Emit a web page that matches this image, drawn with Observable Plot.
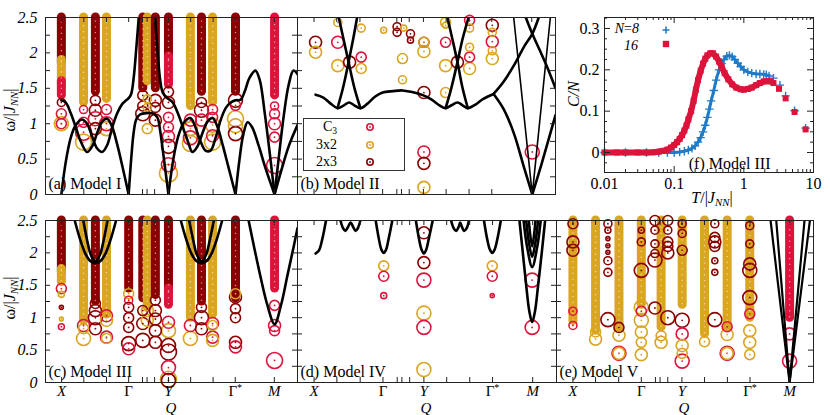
<!DOCTYPE html>
<html><head><meta charset="utf-8">
<script src="https://cdn.jsdelivr.net/npm/d3@7"></script>
<script src="https://cdn.jsdelivr.net/npm/@observablehq/plot@0.6"></script>
<style>
body{margin:0;background:#fff;}
#wrap{position:relative;width:830px;height:415px;overflow:hidden;font-family:"Liberation Serif","Times New Roman",serif;background:#fff;}
#wrap svg{position:absolute;left:0;top:0;}
#wrap svg text{font-family:"Liberation Serif","Times New Roman",serif;}
.lab{position:absolute;font-size:16px;white-space:nowrap;color:#000;line-height:1;}
.lab sub{font-size:0.68em;position:relative;top:0.3em;vertical-align:baseline;line-height:0;}
.box{position:absolute;border:1px solid #333;}
</style></head><body><div id="wrap"></div>
<script>
// ---------- categories & ticks ----------
const SECTORS = ["C3","3x2","2x3"];
const SECTOR_COLORS = ["#dc143c","#daa520","#8b0000"];
const BLUE = "#1f7bc8", RED = "#dc143c";
const SERIF = "Liberation Serif";
const Q_TICKS = [6.4,15.2,24.2,33,38.5,40.3,43.3,48.8,57.6,66.5,75.3,90.8];
const Q_LABEL_POS = [6.4,33,48.8,75.3,90.8];
const Q_LABEL_TEXT = ["X","Γ","Y","Γ*","M"];
const OMEGA_TICKS = [0,0.25,0.5,0.75,1,1.25,1.5,1.75,2,2.25,2.5];
const OMEGA_LABELS = [0,0.5,1,1.5,2,2.5];
const LOG_MAJOR = [0.01,0.1,1,10];
const LOG_LABELS = ["0.01","0.1","1","10"];
const LOG_MINOR = [0.02,0.03,0.04,0.05,0.06,0.07,0.08,0.09,0.2,0.3,0.4,0.5,0.6,0.7,0.8,0.9,2,3,4,5,6,7,8,9];
const C_MAJOR = [0,0.1,0.2,0.3];
const C_LABELS = ["0","0.1","0.2","0.3"];
const C_MINOR = [-0.025,0.025,0.05,0.075,0.125,0.15,0.175,0.225,0.25,0.275,0.325];

// ---------- Model I (a) ----------
const bandsA = [
 [6.3,1.85,2.5,"2x3"],[6.3,1.55,1.9,"3x2"],[6.3,1.4,1.6,"C3"],
 [15.1,1.3,2.5,"3x2"],[19.8,1.45,2.5,"2x3"],[24.2,1.35,2.5,"3x2"],
 [38.6,1.5,2.5,"2x3"],[40.4,1.6,2.5,"3x2"],[43.6,1.5,2.5,"2x3"],
 [48.8,1.9,2.5,"2x3"],[48.8,1.55,1.95,"C3"],
 [57.5,1.25,2.5,"3x2"],[61.9,1.45,2.5,"2x3"],[66.3,1.3,2.5,"3x2"],
 [75.4,1.45,2.5,"2x3"],[90.9,1.4,2.5,"C3"]
];
const circlesA = [
 [6.3,1.3,4,"2x3"],[6.3,1.14,5,"C3"],[6.3,1.0,7,"3x2"],[6.3,1.0,5,"C3"],
 [15.1,1.2,4,"C3"],[15.1,1.02,5,"C3"],[15.1,0.88,8,"C3"],[15.1,0.74,8,"3x2"],
 [19.8,1.33,5,"2x3"],[19.8,1.19,6,"2x3"],[19.8,1.07,7,"C3"],[19.8,0.93,6,"2x3"],
 [24.2,1.2,5,"C3"],[24.2,1.0,7,"C3"],[24.2,0.93,7,"3x2"],
 [38.6,1.4,5,"2x3"],[38.6,1.25,5,"2x3"],[38.6,1.14,7,"2x3"],
 [40.4,1.35,4,"3x2"],[40.4,1.23,4,"3x2"],[40.4,0.93,5,"3x2"],
 [43.6,1.33,6,"2x3"],[43.6,1.23,5,"2x3"],[43.6,1.05,6,"2x3"],
 [48.8,1.45,5,"2x3"],[48.8,1.3,6,"2x3"],[48.8,1.09,5,"C3"],[48.8,0.95,5,"C3"],[48.8,0.82,6,"C3"],[48.8,0.68,7,"2x3"],[48.8,0.42,7,"C3"],[48.8,0.3,9,"3x2"],
 [57.5,1.05,6,"C3"],[57.5,0.93,7,"3x2"],[57.5,0.8,7,"C3"],[57.5,0.72,8,"3x2"],
 [61.9,1.3,5,"2x3"],[61.9,1.19,7,"2x3"],[61.9,1.05,6,"C3"],
 [66.3,1.2,5,"C3"],[66.3,1.09,5,"C3"],[66.3,0.98,7,"3x2"],[66.3,0.83,6,"C3"],[66.3,0.74,8,"3x2"],
 [75.4,1.33,7,"2x3"],[75.4,1.26,5,"C3"],[75.4,1.07,8,"3x2"],[75.4,0.97,7,"3x2"],[75.4,0.86,7,"2x3"],
 [90.9,1.25,4,"C3"],[90.9,1.14,5,"C3"],[90.9,1.0,6,"C3"],[90.9,0.81,5,"C3"],[90.9,0.41,8,"C3"]
];
const curvesA = [
 [[6.3,0],[8,0.45],[10,0.8],[12,0.98],[14.5,1.06],[16.5,1.0],[18.5,0.82],[20.5,0.65],[22.5,0.6],[24.5,0.7],[26.5,0.95],[28.5,1.15],[30.5,1.28],[32,1.33],[33,1.36],[34,1.42],[35,1.65],[36,2.05],[37,2.5]],
 [[6.3,1.33],[8,1.3],[10,1.15],[12,0.95],[14,0.75],[16.5,0.6],[18.5,0.68],[20.5,0.87],[22.5,1.03],[24.5,1.07],[26.5,0.95],[28.5,0.7],[30.5,0.4],[33,0]],
 [[33,0],[34,0.5],[35,0.88],[36,1.06],[37.5,1.13],[40,1.15],[43,1.14],[44.5,1.08],[45.5,0.9],[47,0.5],[48.8,0]],
 [[43.5,2.5],[44.5,2.0],[45.5,1.62],[46.5,1.44],[48,1.37],[48.8,1.35],[50.5,1.3],[52.5,1.15],[54.5,0.95],[56.5,0.75],[58.3,0.6],[60.3,0.68],[62.3,0.87],[64.3,1.03],[66.3,1.08],[68.3,0.95],[70.3,0.7],[72.5,0.4],[75.4,0]],
 [[48.8,0],[50.5,0.45],[52.5,0.8],[55,1.02],[57.5,1.08],[59.5,0.95],[61.5,0.75],[63.5,0.62],[65.5,0.62],[67.5,0.8],[69.5,1.05],[71.5,1.22],[73.5,1.3],[75.4,1.33],[77.5,1.34],[79,1.45],[81,1.65],[83.3,1.75],[85,1.62],[87,1.15],[89,0.58],[90.9,0]],
 [[90.9,0],[92.5,0.5],[94.5,1.1],[96.5,1.55],[98.4,1.75],[100,1.7]],
 [[75.4,0],[77,0.5],[78.5,0.85],[80.2,1.02],[82,0.95],[84.5,0.7],[87.5,0.35],[90.9,0]],
 [[90.9,0],[93.5,0.33],[96.5,0.68],[100,0.98]]
];

// ---------- Model II (b) ----------
const circlesB = [
 [7,2.15,6,"2x3"],[7,2.01,6,"3x2"],
 [15.6,2.43,4,"3x2"],[15.6,2.15,6,"C3"],[15.6,1.82,6,"3x2"],
 [20.2,1.87,6,"2x3"],
 [24.7,2.35,4,"3x2"],[24.7,1.94,5,"C3"],[24.7,1.78,5,"3x2"],
 [33.4,2.32,3,"3x2"],
 [38.6,2.37,4,"2x3"],[38.6,2.29,4,"2x3"],[41.2,2.35,3,"3x2"],
 [43.8,2.27,4,"2x3"],[43.8,2.18,3,"2x3"],
 [40.7,1.92,5,"3x2"],[40.7,1.62,4,"3x2"],
 [49,2.15,5,"2x3"],[49,2.15,5,"3x2"],[49,2.02,6,"3x2"],[49,1.44,6,"2x3"],[49,0.6,6,"C3"],[49,0.44,6,"2x3"],[49,0.1,6,"3x2"],
 [57.4,2.43,5,"3x2"],[57.4,2.39,3,"3x2"],[57.4,2.15,5,"C3"],[57.4,1.82,6,"3x2"],[57.4,1.44,5,"3x2"],
 [62,1.87,6,"2x3"],
 [66.7,2.46,5,"C3"],[66.7,2.35,4,"3x2"],[66.7,2.08,4,"3x2"],[66.7,1.94,5,"C3"],[66.7,1.78,6,"3x2"],
 [75.5,2.39,6,"2x3"],[75.5,2.29,4,"3x2"],[75.5,2.16,6,"C3"],[75.5,2.03,4,"3x2"],[75.5,1.92,6,"3x2"],
 [91,0.6,7,"C3"]
];
const curvesB = [
 [[7,1.41],[10,1.37],[13,1.28],[15.5,1.22],[18,1.26],[20,1.3],[22,1.26],[24.4,1.22],[27,1.28],[30,1.38],[33,1.44],[37,1.46],[40.7,1.47],[44,1.45],[48.8,1.4],[52,1.34],[55,1.26],[57.4,1.22],[59.7,1.26],[62,1.3],[64,1.26],[66,1.22],[69,1.27],[72,1.35],[76,1.42]],
 [[15.5,1.22],[17.6,1.5],[19.8,1.87],[21.6,2.2],[23.1,2.5]],
 [[24.4,1.22],[22.1,1.5],[19.8,1.87],[17.8,2.2],[16,2.5]],
 [[57.4,1.22],[59.6,1.5],[62,1.87],[64,2.2],[66.3,2.5]],
 [[66,1.22],[64,1.5],[62,1.87],[60,2.2],[58.1,2.5]],
 [[76,1.42],[80,1.6],[84,1.83],[88,2.1],[91,2.27],[93.5,2.5]],
 [[88.5,2.5],[91,2.27],[94,2.03],[97,1.78],[100,1.5]],
 [[76,1.42],[80,1.2],[84,0.85],[87.5,0.42],[91,0]],
 [[91,0],[94.5,0.42],[97.5,0.8],[100,1.12]]
];
const linesB = [ [[83.8,2.5],[91,0],[98,2.5]] ];

// ---------- Model III (c) ----------
const bandsC = [
 [6.3,1.7,2.5,"2x3"],[6.3,1.55,1.75,"3x2"],
 [15.1,0.95,2.5,"3x2"],[19.8,1.25,2.5,"2x3"],[24.2,1.05,2.5,"3x2"],
 [33,1.45,2.5,"2x3"],[38.6,1.3,2.5,"2x3"],[40.4,1.15,2.5,"3x2"],[43.6,1.35,2.5,"2x3"],
 [48.8,1.4,2.5,"2x3"],[48.8,1.2,1.45,"C3"],
 [57.5,1.0,2.5,"3x2"],[61.9,1.25,2.5,"2x3"],[66.3,1.05,2.5,"3x2"],
 [75.4,1.3,2.5,"2x3"],[90.9,1.45,2.5,"C3"]
];
const circlesC = [
 [6.3,1.45,5,"C3"],[6.3,1.36,3,"3x2"],[6.3,1.16,2,"2x3"],[6.3,0.98,2,"3x2"],[6.3,0.86,3,"C3"],
 [15.1,0.88,6,"C3"],[15.1,0.83,5,"3x2"],[15.1,0.68,7,"3x2"],
 [19.8,1.22,5,"2x3"],[19.8,1.11,6,"2x3"],[19.8,1.0,7,"2x3"],[19.8,0.83,6,"2x3"],
 [24.2,1.03,6,"C3"],[24.2,0.96,6,"3x2"],[24.2,0.7,6,"C3"],[24.2,0.68,5,"3x2"],
 [33,1.37,5,"3x2"],[33,1.27,4,"C3"],[33,1.16,5,"2x3"],[33,1.0,5,"2x3"],[33,0.85,5,"2x3"],[33,0.6,7,"2x3"],[33,0.52,6,"C3"],
 [38.6,1.11,5,"2x3"],[38.6,0.91,6,"2x3"],[38.6,0.65,7,"2x3"],
 [40.4,1.11,6,"3x2"],[40.4,0.96,6,"3x2"],
 [43.6,1.27,5,"2x3"],[43.6,1.11,6,"2x3"],[43.6,0.98,6,"2x3"],[43.6,0.8,6,"2x3"],[43.6,0.62,6,"2x3"],
 [48.8,0.93,6,"C3"],[48.8,0.8,7,"3x2"],[48.8,0.57,7,"2x3"],[48.8,0.47,8,"2x3"],[48.8,0.23,7,"C3"],[48.8,0.05,8,"3x2"],[48.8,0.03,7,"2x3"],
 [57.5,0.88,6,"C3"],[57.5,0.68,7,"3x2"],
 [61.9,1.16,5,"2x3"],[61.9,1.0,7,"2x3"],[61.9,0.83,6,"2x3"],
 [66.3,0.91,6,"C3"],[66.3,0.88,5,"3x2"],[66.3,0.7,6,"C3"],[66.3,0.65,6,"3x2"],
 [75.4,1.37,5,"3x2"],[75.4,1.32,6,"2x3"],[75.4,1.14,5,"2x3"],[75.4,1.0,5,"2x3"],[75.4,0.62,6,"2x3"],[75.4,0.55,6,"C3"],
 [90.9,1.19,5,"C3"],[90.9,0.88,6,"C3"],[90.9,0.8,5,"C3"],[90.9,0.34,8,"C3"]
];
const curvesC = [
 [[11.6,2.5],[13.8,2.2],[15.8,1.99],[17.9,1.87],[19.8,1.84],[21.7,1.87],[23.8,1.99],[25.8,2.2],[28,2.5]],
 [[15,2.5],[16.5,2.2],[18,1.97],[19.8,1.87],[21.6,1.97],[23.1,2.2],[24.6,2.5]],
 [[53.7,2.5],[55.9,2.2],[57.9,1.99],[60,1.87],[61.9,1.84],[63.8,1.87],[65.9,1.99],[67.9,2.2],[70.1,2.5]],
 [[57,2.5],[58.6,2.2],[60.1,1.97],[61.9,1.87],[63.7,1.97],[65.2,2.2],[66.8,2.5]],
 [[80.6,2.5],[83,2.05],[85.5,1.6],[88,1.2],[90.9,0.9],[93.5,1.2],[96,1.65],[98.5,2.1],[100,2.38]]
];

// ---------- Model IV (d) ----------
const circlesD = [
 [33.3,1.8,5,"3x2"],[33.3,1.64,5,"C3"],[33.3,1.34,3,"C3"],
 [48.8,2.31,6,"2x3"],[48.8,1.85,6,"2x3"],[48.8,1.58,7,"C3"],[48.8,1.07,7,"3x2"],[48.8,0.85,7,"C3"],[48.8,0.2,7,"3x2"],
 [75.2,1.8,5,"3x2"],[75.2,1.64,5,"C3"],[75.2,1.34,2,"C3"],
 [90.6,1.58,7,"C3"],[90.6,0.85,7,"C3"]
];
const curvesD = [
 [[7,1.99],[8.3,2.04],[9.5,2.2],[10.3,2.35],[11,2.5]],
 [[16.6,2.5],[17.6,2.38],[18.5,2.34],[19.5,2.4],[20.5,2.47],[21.5,2.4],[22.4,2.34],[23.3,2.38],[24.3,2.5]],
 [[30.2,2.5],[31.4,2.22],[32.4,2.05],[33.3,2.0],[34.2,2.05],[35.2,2.22],[36.6,2.5]],
 [[45.7,2.5],[46.9,2.22],[47.9,2.05],[48.8,1.99],[49.7,2.05],[50.7,2.22],[52.2,2.5]],
 [[59.3,2.5],[60.3,2.38],[61.2,2.34],[62.2,2.4],[62.8,2.47],[63.5,2.4],[64.3,2.34],[65.3,2.38],[66.2,2.5]],
 [[72,2.5],[73.2,2.22],[74.3,2.05],[75.2,2.0],[76.1,2.05],[77.2,2.22],[78.5,2.5]],
 [[85.7,2.5],[87,2.0],[88.3,1.5],[89.5,1.1],[90.6,0.93],[91.7,1.1],[92.9,1.5],[94.3,2.0],[95.6,2.5]],
 [[87.3,2.5],[88.7,2.08],[90.6,1.78],[92.5,2.08],[93.9,2.5]],
 [[88.3,2.5],[89.4,2.15],[90.6,1.94],[91.8,2.15],[92.9,2.5]],
 [[89.3,2.5],[90.6,2.1],[91.9,2.5]]
];

// ---------- Model V (e) ----------
const bandsE = [
 [6.4,0.95,2.5,"3x2"],[15.2,0.8,2.5,"3x2"],[24.3,0.85,2.5,"3x2"],[33,1.2,2.5,"3x2"],
 [40.7,0.85,2.5,"3x2"],[48.9,1.2,2.5,"3x2"],[57.6,0.75,2.5,"3x2"],[66.4,0.85,2.5,"3x2"],
 [75.2,1.0,2.5,"3x2"],[90.7,1.0,2.5,"C3"]
];
const circlesE = [
 [6.4,2.45,5,"2x3"],[6.4,2.17,6,"2x3"],[6.4,2.04,6,"2x3"],[6.4,1.1,4,"C3"],[6.4,0.88,4,"C3"],
 [15.2,0.78,5,"3x2"],[15.2,0.67,6,"3x2"],
 [20,2.45,4,"2x3"],[20,2.35,3,"2x3"],[20,2.22,2,"2x3"],[20,2.11,2,"2x3"],[20,2.01,2,"2x3"],[20,1.88,4,"2x3"],[20,1.7,4,"2x3"],[20,0.97,7,"2x3"],
 [24.3,0.85,5,"2x3"],[24.3,0.73,6,"3x2"],[24.3,0.45,7,"C3"],[24.3,0.45,6,"3x2"],
 [33,2.35,3,"2x3"],[33,2.17,4,"2x3"],[33,1.73,7,"2x3"],[33,1.16,7,"3x2"],[33,1.1,5,"C3"],[33,0.96,7,"3x2"],[33,0.78,6,"3x2"],[33,0.62,5,"3x2"],[33,0.43,6,"3x2"],
 [38.3,2.5,5,"2x3"],[38.3,2.35,4,"2x3"],[38.3,2.14,4,"2x3"],[38.3,1.99,4,"2x3"],[38.3,1.89,7,"2x3"],[38.3,1.15,6,"2x3"],
 [40.7,0.72,5,"3x2"],[40.7,0.62,6,"3x2"],
 [43.3,2.5,5,"2x3"],[43.3,2.35,4,"2x3"],[43.3,2.17,5,"2x3"],[43.3,2.1,5,"2x3"],[43.3,2.0,6,"2x3"],[43.3,1.0,7,"2x3"],
 [48.9,2.45,4,"2x3"],[48.9,2.3,4,"2x3"],[48.9,2.04,5,"2x3"],[48.9,0.96,7,"2x3"],[48.9,0.75,6,"C3"],[48.9,0.57,6,"3x2"],[48.9,0.45,5,"3x2"],[48.9,0.33,7,"C3"],
 [57.6,0.63,5,"3x2"],
 [61.6,2.45,4,"2x3"],[61.6,2.24,5,"2x3"],[61.6,2.17,6,"2x3"],[61.6,2.1,5,"2x3"],[61.6,1.88,3,"2x3"],[61.6,1.7,3,"2x3"],[61.6,0.97,7,"2x3"],
 [66.4,0.86,5,"C3"],[66.4,0.74,6,"3x2"],[66.4,0.45,7,"C3"],[66.4,0.45,6,"3x2"],
 [75.2,2.42,4,"2x3"],[75.2,2.14,4,"2x3"],[75.2,1.83,6,"2x3"],[75.2,1.73,7,"2x3"],[75.2,1.31,7,"2x3"],[75.2,1.06,5,"C3"],[75.2,0.8,6,"3x2"],[75.2,0.62,6,"3x2"],[75.2,0.43,5,"3x2"],
 [90.7,0.75,6,"C3"],[90.7,0.33,7,"C3"]
];
const linesE = [ [[83.3,2.5],[90.7,0],[98.6,2.5]], [[85.5,2.5],[90.7,0],[96.5,2.5]] ];

// ---------- (f) specific heat, Model III ----------
const T16 = [0.01,0.015,0.02,0.03,0.04,0.05,0.06,0.07,0.08,0.09,0.1,0.11,0.12,0.13,0.14,0.15,0.16,0.175,0.19,0.205,0.22,0.24,0.26,0.28,0.3,0.33,0.36,0.4,0.44,0.48,0.53,0.6,0.68,0.78,0.9,1.0,1.15,1.3,1.5,1.7,1.95,2.2,2.4];
const C16 = [0,0,0,0,0,0.0005,0.002,0.004,0.007,0.012,0.018,0.025,0.033,0.042,0.053,0.065,0.08,0.1,0.125,0.152,0.175,0.198,0.215,0.227,0.235,0.24,0.24,0.232,0.22,0.207,0.192,0.177,0.165,0.157,0.153,0.152,0.154,0.157,0.163,0.168,0.172,0.173,0.172];
const T16_TAIL = [2.66,3.2,3.98,5.35,7.7];
const C16_TAIL = [0.168,0.154,0.131,0.098,0.056];
const T8 = [0.01,0.02,0.04,0.06,0.08,0.1,0.12,0.14,0.16,0.18,0.2,0.22,0.24,0.26,0.28,0.3,0.32,0.34,0.37,0.4,0.44,0.48,0.52,0.57,0.62,0.68,0.74,0.82,0.9,1.0,1.14,1.3,1.5,1.7,1.93,2.1,2.3];
const C8 = [0,0,0,0,0,0,0.001,0.003,0.006,0.01,0.016,0.025,0.036,0.05,0.066,0.085,0.105,0.125,0.15,0.175,0.2,0.215,0.225,0.233,0.235,0.232,0.225,0.216,0.208,0.2,0.195,0.192,0.19,0.19,0.189,0.188,0.185];
const T8_TAIL = [2.66,3.3,3.98,5.35,7.7];
const C8_TAIL = [0.18,0.163,0.137,0.101,0.059];

// ---------- layout ----------
const FRAMES = {a:[45,297,17,194], b:[297,555,17,194], c:[45,297,220,382], d:[297,556,220,382], e:[556,813,220,382], f:[604,813,17,172]};
const wrap = document.getElementById("wrap");
const SVGNS = "http://www.w3.org/2000/svg";

function fixGammaStar(svg){
  svg.querySelectorAll("text").forEach(t=>{
    if (t.textContent === "Γ*") {
      t.textContent = "Γ";
      const ts = document.createElementNS(SVGNS,"tspan");
      ts.setAttribute("dy","-0.5em"); ts.setAttribute("font-size","10"); ts.textContent = "*";
      t.appendChild(ts);
    }
  });
}

function panelSpectral(key, bands, circles, curves, straight, label, showY, showQ){
  const [L,R,T,B] = FRAMES[key];
  const ux = 100/(R-L), uy = 2.5/(B-T), tk = 5;
  const flat = arr => arr.flatMap((c,i)=>c.map(p=>({id:i,q:p[0],w:p[1]})));
  const marks = [
    Plot.ruleX(bands,{x:d=>d[0],y1:d=>d[1],y2:d=>d[2],stroke:d=>d[3],strokeWidth:9,strokeLinecap:"round"}),
    Plot.ruleX(bands,{x:d=>d[0],y1:d=>d[1],y2:d=>d[2],stroke:"white",strokeWidth:1.3,strokeDasharray:"1.3,4.5",strokeOpacity:0.55}),
    Plot.dot(circles,{x:d=>d[0],y:d=>d[1],r:d=>d[2],stroke:d=>d[3],strokeWidth:1.6}),
    Plot.dot(circles,{x:d=>d[0],y:d=>d[1],r:0.9,fill:d=>d[3]}),
    Plot.line(flat(curves),{x:"q",y:"w",z:"id",stroke:"#000",strokeWidth:2.6,curve:"catmull-rom",clip:true}),
    Plot.line(flat(straight),{x:"q",y:"w",z:"id",stroke:"#000",strokeWidth:key==="b"?1.6:2.2,clip:true}),
    Plot.ruleY(OMEGA_TICKS,{y:d=>d,x1:0,x2:tk*ux,stroke:"#222"}),
    Plot.ruleY(OMEGA_TICKS,{y:d=>d,x1:100,x2:100-tk*ux,stroke:"#222"}),
    Plot.ruleX(Q_TICKS,{x:d=>d,y1:0,y2:tk*uy,stroke:"#222"}),
    Plot.ruleX(Q_TICKS,{x:d=>d,y1:2.5,y2:2.5-tk*uy,stroke:"#222"}),
    Plot.frame({stroke:"#222",strokeWidth:1}),
    Plot.text([label],{frameAnchor:"bottom-left",text:d=>d,dx:3,dy:-11,textAnchor:"start",lineAnchor:"middle",fontSize:16,fontFamily:SERIF})
  ];
  if (showY) marks.push(Plot.text(OMEGA_LABELS,{x:0,y:d=>d,text:d=>String(d),textAnchor:"end",lineAnchor:"middle",dx:-8,fontStyle:"italic",fontSize:16,fontFamily:SERIF}));
  if (showQ) {
    const ql = Q_LABEL_POS.map((q,i)=>({q,t:Q_LABEL_TEXT[i]}));
    marks.push(Plot.text(ql.filter(d=>!d.t.startsWith("Γ")),{x:"q",y:0,text:"t",dy:9,lineAnchor:"middle",fontStyle:"italic",fontSize:15,fontFamily:SERIF}));
    marks.push(Plot.text(ql.filter(d=>d.t.startsWith("Γ")),{x:"q",y:0,text:"t",dy:9,lineAnchor:"middle",fontSize:15,fontFamily:SERIF}));
  }
  const svg = Plot.plot({
    width:830,height:415,marginLeft:L,marginRight:830-R,marginTop:T,marginBottom:415-B,
    x:{domain:[0,100],axis:null}, y:{domain:[0,2.5],axis:null},
    r:{type:"linear",domain:[0,10],range:[0,10]},
    color:{domain:SECTORS,range:SECTOR_COLORS},
    style:{background:"transparent",overflow:"visible",fontFamily:"Liberation Serif, serif",fontSize:"16px",color:"black"},
    marks
  });
  fixGammaStar(svg);
  wrap.appendChild(svg);
}

function panelF(){
  const [L,R,T,B] = FRAMES.f;
  const y0=-0.0484, y1=0.3266;
  const dec=(R-L)/3, uy=(y1-y0)/(B-T);
  const fx=(t,px)=>t*Math.pow(10,px/dec);
  const red = T16.map((t,i)=>({t,c:C16[i]}));
  const redTail = T16_TAIL.map((t,i)=>({t,c:C16_TAIL[i]}));
  const blue = T8.map((t,i)=>({t,c:C8[i]}));
  const blueTail = T8_TAIL.map((t,i)=>({t,c:C8_TAIL[i]}));
  const svg = Plot.plot({
    width:830,height:415,marginLeft:L,marginRight:830-R,marginTop:T,marginBottom:415-B,
    x:{type:"log",domain:[0.01,10],axis:null}, y:{domain:[y0,y1],axis:null},
    style:{background:"transparent",overflow:"visible",fontFamily:"Liberation Serif, serif",fontSize:"16px",color:"black"},
    marks:[
      Plot.line(blue,{x:"t",y:"c",stroke:BLUE,strokeWidth:3}),
      Plot.dot(blue.concat(blueTail),{x:"t",y:"c",symbol:"plus",r:2.8,stroke:BLUE,strokeWidth:1.4}),
      Plot.line(red,{x:"t",y:"c",stroke:RED,strokeWidth:6}),
      Plot.dot(red.concat(redTail),{x:"t",y:"c",symbol:"square",r:3.4,fill:RED}),
      Plot.ruleX(LOG_MAJOR,{x:d=>d,y1:y0,y2:y0+6*uy,stroke:"#222"}),
      Plot.ruleX(LOG_MAJOR,{x:d=>d,y1:y1,y2:y1-6*uy,stroke:"#222"}),
      Plot.ruleX(LOG_MINOR,{x:d=>d,y1:y0,y2:y0+3*uy,stroke:"#222"}),
      Plot.ruleX(LOG_MINOR,{x:d=>d,y1:y1,y2:y1-3*uy,stroke:"#222"}),
      Plot.ruleY(C_MAJOR,{y:d=>d,x1:0.01,x2:fx(0.01,6),stroke:"#222"}),
      Plot.ruleY(C_MAJOR,{y:d=>d,x1:10,x2:fx(10,-6),stroke:"#222"}),
      Plot.ruleY(C_MINOR,{y:d=>d,x1:0.01,x2:fx(0.01,3),stroke:"#222"}),
      Plot.ruleY(C_MINOR,{y:d=>d,x1:10,x2:fx(10,-3),stroke:"#222"}),
      Plot.frame({stroke:"#222",strokeWidth:1}),
      Plot.text(LOG_MAJOR,{x:d=>d,y:y0,text:(d,i)=>LOG_LABELS[i],dy:11,lineAnchor:"middle",fontSize:16,fontFamily:SERIF}),
      Plot.text(C_MAJOR,{x:0.01,y:d=>d,text:(d,i)=>C_LABELS[i],textAnchor:"end",lineAnchor:"middle",dx:-5,fontSize:16,fontFamily:SERIF}),
      Plot.text(["(f) Model III"],{frameAnchor:"bottom-right",text:d=>d,textAnchor:"end",lineAnchor:"middle",dx:-43,dy:-9,fontSize:16,fontFamily:SERIF})
    ]
  });
  wrap.appendChild(svg);
}

panelSpectral("a", bandsA, circlesA, curvesA, [], "(a) Model I", true, false);
panelSpectral("b", [], circlesB, curvesB, linesB, "(b) Model II", false, false);
panelSpectral("c", bandsC, circlesC, curvesC, [], "(c) Model III", true, true);
panelSpectral("d", [], circlesD, curvesD, [], "(d) Model IV", false, true);
panelSpectral("e", bandsE, circlesE, [], linesE, "(e) Model V", false, true);
panelF();

// ---------- HTML labels & legends ----------
function lab(html,x,y,opt={}){
  const d=document.createElement("div");
  d.className="lab"; d.innerHTML=html;
  d.style.left=x+"px"; d.style.top=y+"px";
  if (opt.size) d.style.fontSize=opt.size+"px";
  const a=opt.anchor||"middle";
  const tx=a==="start"?"0":a==="end"?"-100%":"-50%";
  d.style.transform=`translate(${tx},-50%)`+(opt.rotate?" rotate(-90deg)":"");
  wrap.appendChild(d);
}
lab('ω/|<i>J</i><sub><i>NN</i></sub>|',10,110,{rotate:true});
lab('ω/|<i>J</i><sub><i>NN</i></sub>|',10,298,{rotate:true});
lab('<i>Q</i>',171,408,{size:15}); lab('<i>Q</i>',426,408,{size:15}); lab('<i>Q</i>',684,408,{size:15});
lab('<i>C/N</i>',574,94,{rotate:true});
lab('<i>T</i>/|<i>J</i><sub><i>NN</i></sub>|',712,198);
lab('<i>N</i>=<i>8</i>',639,29,{anchor:"end",size:14});
lab('<i>16</i>',638,46,{anchor:"end",size:14});
function svgMarker(x,y,inner){
  const s=document.createElementNS(SVGNS,"svg");
  s.setAttribute("width","20"); s.setAttribute("height","20");
  s.style.position="absolute"; s.style.left=(x-10)+"px"; s.style.top=(y-10)+"px";
  s.innerHTML=inner; wrap.appendChild(s);
}
svgMarker(666,30,`<path d="M6.5,10H13.5M10,6.5V13.5" stroke="${BLUE}" stroke-width="1.6"/>`);
svgMarker(666,44,`<rect x="6.8" y="6.8" width="6.4" height="6.4" fill="${RED}"/>`);
const box=document.createElement("div"); box.className="box";
box.style.left="303px"; box.style.top="118px"; box.style.width="100px"; box.style.height="51px";
wrap.appendChild(box);
const LEG_TEXT=['C<sub>3</sub>','3x2','2x3'];
const LEG_Y=[127,145,162];
LEG_TEXT.forEach((t,i)=>{
  lab(t,337,LEG_Y[i],{anchor:"end",size:14});
  svgMarker(370,LEG_Y[i],`<circle cx="10" cy="10" r="3.2" fill="none" stroke="${SECTOR_COLORS[i]}" stroke-width="1.6"/><circle cx="10" cy="10" r="0.9" fill="${SECTOR_COLORS[i]}"/>`);
});
</script></body></html>
